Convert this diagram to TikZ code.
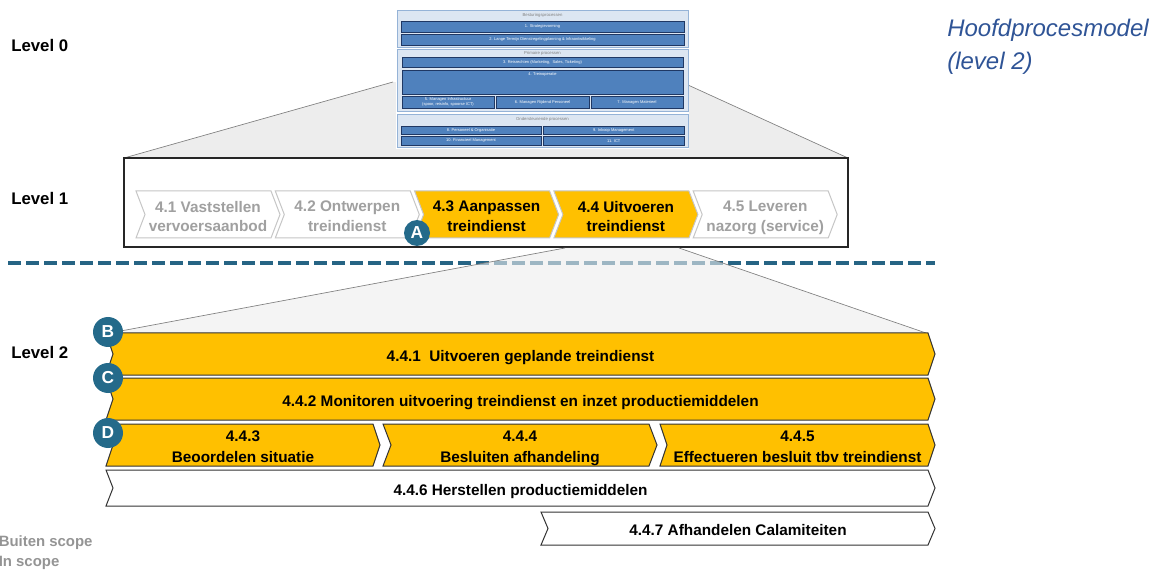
\documentclass[tikz,border=0pt]{standalone}
\usepackage{fontspec}
\setmainfont{Liberation Sans}
\usetikzlibrary{calc}
\definecolor{nsyellow}{RGB}{255,192,0}
\definecolor{badgec}{RGB}{36,106,138}
\definecolor{dashc}{RGB}{38,100,132}
\definecolor{titleblue}{RGB}{47,84,150}
\definecolor{boxblue}{RGB}{79,129,189}
\definecolor{panelblue}{RGB}{220,230,242}
\definecolor{panelborder}{RGB}{149,179,215}
\definecolor{navyb}{RGB}{31,56,100}
\definecolor{outgray}{RGB}{160,160,160}
\newcommand\lzbox[6]{\path[lzb] (#2,#3) rectangle (#4,#5); \node[lzt] (#1) at ({(#2+#4)/2},{(#3+#5)/2}) {#6};}
\newcommand\chevr[9]{%
  \path[#7] (#2,#3) -- ({#4-#6},#3) -- (#4,{(#3+#5)/2}) -- ({#4-#6},#5) -- (#2,#5) -- ({#2+#6},{(#3+#5)/2}) -- cycle;
  \node[#8] (#1) at ({(#2+#4)/2},{(#3+#5)/2}) {#9\vphantom{(g}};}
\begin{document}
\begin{tikzpicture}[x=0.75pt,y=-0.75pt,
  lvl/.style={font=\bfseries\fontsize{12.6}{15}\selectfont, anchor=west, inner sep=0pt},
  ctxt/.style={font=\bfseries\fontsize{11.5}{14.6}\selectfont, align=center, inner sep=0pt, yshift=-2.6pt},
  cin/.style={ctxt, text=black},
  cout/.style={ctxt, text=outgray},
  cin2/.style={ctxt, text=black, font=\bfseries\fontsize{11.5}{15.4}\selectfont},
  yshape/.style={fill=nsyellow, draw=gray!45, line width=0.75pt},
  wshape/.style={fill=white, draw=gray!45, line width=0.75pt},
  ybar/.style={fill=nsyellow, draw=black!80, line width=0.75pt},
  wbar/.style={fill=white, draw=black!80, line width=0.75pt},
  badge/.style={circle, fill=badgec, text=white, font=\bfseries\fontsize{13}{13}\selectfont, minimum size=22.5pt, inner sep=0pt},
  lzb/.style={fill=boxblue, draw=navyb, line width=0.6pt},
  lzt/.style={text=white, font=\fontsize{3}{3.6}\selectfont, align=center, inner sep=0pt},
  lzp/.style={fill=panelblue, draw=panelborder, line width=0.75pt},
  lzh/.style={text=gray, font=\fontsize{3.2}{3.6}\selectfont, inner sep=0pt},
  funnel/.style={fill=black!7},
  fline/.style={draw=black!50, line width=0.5pt},
  legend/.style={anchor=west, inner sep=0pt, text=black!42, font=\bfseries\fontsize{11.2}{12}\selectfont}
]
\useasboundingbox (0,0) rectangle (1158,574);

% ---------- funnel level 0 -> level 1
\coordinate (f0a) at (393,82);
\coordinate (f0b) at (688,85);
\coordinate (f0c) at (848,158);
\coordinate (f0d) at (124,158);
\path[funnel] (f0a) -- (f0b) -- (f0c) -- (f0d) -- cycle;
\draw[fline] (f0a) -- (f0d);
\draw[fline] (f0b) -- (f0c);

% ---------- level 0 picture
\fill[white] (396,9) rectangle (689,149);
\path[lzp] (397,11) rectangle (688,48);
\node[lzh] (t-bes) at (542.5,15.5) {Besturingsprocessen};
\lzbox{b1}{401}{21}{684}{32}{1. Strategievorming}
\lzbox{b2}{401}{34}{684}{45}{2. Lange Termijn Dienstregelingplanning \& Infraontwikkeling}
\path[lzp] (397,49.5) rectangle (688,112);
\node[lzh] (t-pri) at (542.5,53) {Primaire processen};
\lzbox{b3}{402}{57}{683}{67}{3. Reisrechten (Marketing, \ Sales, Ticketing)}
\path[lzb] (402,70) rectangle (683,94);
\node[lzt] (b4) at (542.5,74) {4. Treinoperatie};
\lzbox{b5}{402}{96}{494}{108.5}{5. Managen Infrastructuur\\(spoor, reisinfo, spoorse ICT)}
\lzbox{b6}{496}{96}{589}{108.5}{6. Managen Rijdend Personeel}
\lzbox{b7}{591}{96}{683}{108.5}{7. Managen Materieel}
\path[lzp] (397,114.5) rectangle (688,148);
\node[lzh] (t-ond) at (542.5,119) {Ondersteunende processen};
\lzbox{b8}{401}{126}{541}{134.5}{8. Personeel \& Organisatie}
\lzbox{b9}{543.5}{126}{684}{134.5}{9. Inkoop Management}
\lzbox{b10}{401}{136}{541}{145.5}{10. Financieel Management}
\lzbox{b11}{543.5}{136}{684}{145.5}{11. ICT}

% ---------- level labels
\node[lvl] (lv0) at (11,45) {Level 0};
\node[lvl] (lv1) at (11,198) {Level 1};
\node[lvl] (lv2) at (11,352) {Level 2};

% ---------- title
\node[anchor=west, inner sep=0pt, text=titleblue, align=left,
      font=\itshape\fontsize{18}{24.75}\selectfont] (title) at (947,47) {Hoofdprocesmodel\\(level 2)};

% ---------- level 1 box
\draw[draw=black!85, fill=white, line width=0.9pt] (124,158) rectangle (848,247);
\chevr{c41}{136}{191}{280}{238}{9}{wshape}{cout}{4.1 Vaststellen\\vervoersaanbod}
\chevr{c42}{275.3}{191}{419.3}{238}{9}{wshape}{cout}{4.2 Ontwerpen\\treindienst}
\chevr{c43}{414.6}{191}{558.6}{238}{9}{yshape}{cin}{4.3 Aanpassen\\treindienst}
\chevr{c44}{553.9}{191}{697.9}{238}{9}{yshape}{cin}{4.4 Uitvoeren\\treindienst}
\chevr{c45}{693.2}{191}{837.2}{238}{9}{wshape}{cout}{4.5 Leveren\\nazorg (service)}
\node[badge, minimum size=19.5pt] (bA) at (417,233) {A};

% ---------- dashed separator
\coordinate (dl) at (8,263);
\coordinate (dr) at (935,263);
\draw[dashc, line width=3pt, dash pattern=on 9.75pt off 3.75pt] (dl) -- (dr);

% ---------- funnel level 1 -> level 2
\coordinate (f1a) at (565,248);
\coordinate (f1b) at (679,248);
\coordinate (f1c) at (926,333);
\coordinate (f1d) at (110,333);
\path[funnel, fill opacity=0.6] (f1a) -- (f1b) -- (f1c) -- (f1d) -- cycle;
\draw[fline] (f1a) -- (f1d);
\draw[fline] (f1b) -- (f1c);

% ---------- level 2 bars
\chevr{p441}{106}{333}{935}{375}{7}{ybar}{cin}{4.4.1\ \ Uitvoeren geplande treindienst}
\chevr{p442}{106}{378}{935}{420}{7}{ybar}{cin}{4.4.2 Monitoren uitvoering treindienst en inzet productiemiddelen}
\chevr{p443}{106}{424}{380}{466}{7}{ybar}{cin2}{4.4.3\\Beoordelen situatie}
\chevr{p444}{383}{424}{657}{466}{8}{ybar}{cin2}{4.4.4\\Besluiten afhandeling}
\chevr{p445}{660}{424}{935}{466}{7}{ybar}{cin2}{4.4.5\\Effectueren besluit tbv treindienst}
\chevr{p446}{106}{470}{935}{506}{7}{wbar}{cin}{4.4.6 Herstellen productiemiddelen}
\chevr{p447}{541}{512}{935}{545}{7}{wbar}{cin}{4.4.7 Afhandelen Calamiteiten}

% ---------- badges
\node[badge] (bB) at (108,332) {B};
\node[badge] (bC) at (108,378) {C};
\node[badge] (bD) at (108,433) {D};

% ---------- legend
\node[legend] (lg1) at (-1.5,543) {Buiten scope};
\node[legend] (lg2) at (-1.5,563) {In scope};
\end{tikzpicture}
\end{document}
